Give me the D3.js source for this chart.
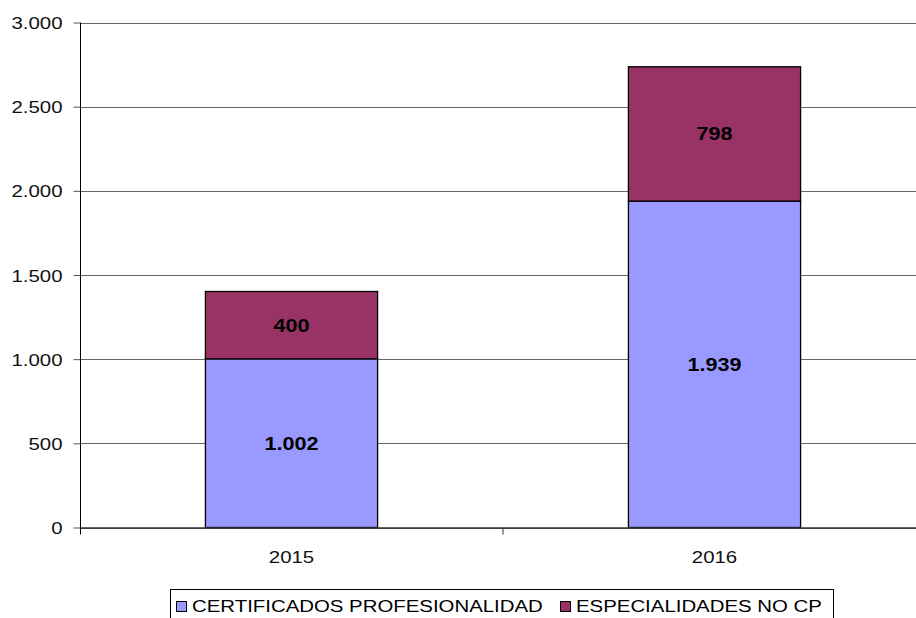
<!DOCTYPE html>
<html>
<head>
<meta charset="utf-8">
<script src="https://cdn.jsdelivr.net/npm/d3@7"></script>
<style>
  body { margin: 0; background: #fff; }
  svg { display: block; font-family: "Liberation Sans", Arial, sans-serif; }
</style>
</head>
<body>
<div id="chart"></div>
<script>
var years = ["2015", "2016"];
var seriesNames = ["CERTIFICADOS PROFESIONALIDAD", "ESPECIALIDADES NO CP"];
var certificados = [1002, 1939];
var especialidades = [400, 798];
var yTicks = [0, 500, 1000, 1500, 2000, 2500, 3000];
var colors = ["#9999ff", "#993366"];

var width = 916, height = 618;
var plot = {left: 80, right: 926, top: 22.5, bottom: 527.5};
var sx = 1.2; // the original text is drawn horizontally wide

var fmt = function(v) { return d3.format(",")(v).replace(/,/g, "."); };

// move x/y into a transform so text can be stretched sideways
function stretch(sel) {
  sel.each(function() {
    var t = d3.select(this);
    var tx = +t.attr("x") || 0, ty = +t.attr("y") || 0;
    t.attr("x", 0).attr("y", 0)
      .attr("transform", "translate(" + tx + "," + ty + ") scale(" + sx + ",1)");
  });
}

var data = years.map(function(y, i) {
  return {year: y, c: certificados[i], e: especialidades[i]};
});

var series = d3.stack().keys(["c", "e"])(data);

var svg = d3.select("#chart").append("svg")
  .attr("width", width)
  .attr("height", height);

var x = d3.scaleBand()
  .domain(years)
  .range([plot.left, plot.right])
  .paddingInner(0.593)
  .paddingOuter(0.2965);

var y = d3.scaleLinear()
  .domain([0, 3000])
  .range([plot.bottom, plot.top]);

// gridlines
svg.append("g")
  .selectAll("line")
  .data(yTicks)
  .enter().append("line")
  .attr("x1", plot.left)
  .attr("x2", plot.right)
  .attr("y1", function(d) { return Math.round(y(d)) + 0.5; })
  .attr("y2", function(d) { return Math.round(y(d)) + 0.5; })
  .attr("stroke", "#666")
  .attr("stroke-width", 1);

// y axis
var yAxis = d3.axisLeft(y)
  .tickValues(yTicks)
  .tickSize(7)
  .tickPadding(11)
  .tickFormat(fmt);

svg.append("g")
  .attr("transform", "translate(" + (plot.left + 0.5) + ",0)")
  .call(yAxis)
  .call(function(g) {
    g.select(".domain").remove();
    g.selectAll(".tick line").attr("stroke", "#555");
    g.selectAll("text").style("font-size", "17px").attr("fill", "#111")
      .attr("dy", null).attr("y", 6).call(stretch);
  });

svg.append("line")
  .attr("x1", plot.left + 0.5).attr("x2", plot.left + 0.5)
  .attr("y1", plot.top).attr("y2", plot.bottom + 7)
  .attr("stroke", "#000");

// bars
var layers = svg.selectAll(".layer")
  .data(series)
  .enter().append("g")
  .attr("class", "layer")
  .attr("fill", function(d, i) { return colors[i]; });

layers.selectAll("rect")
  .data(function(d) { return d; })
  .enter().append("rect")
  .attr("x", function(d) { return x(d.data.year); })
  .attr("y", function(d) { return y(d[1]); })
  .attr("width", x.bandwidth())
  .attr("height", function(d) { return y(d[0]) - y(d[1]); })
  .attr("stroke", "#000")
  .attr("stroke-width", 1.3);

// value labels
layers.selectAll("text")
  .data(function(d) { return d.map(function(p) { return {p: p, key: d.key}; }); })
  .enter().append("text")
  .attr("x", function(d) { return x(d.p.data.year) + x.bandwidth() / 2; })
  .attr("y", function(d) { return (y(d.p[0]) + y(d.p[1])) / 2 + 6.5; })
  .attr("text-anchor", "middle")
  .attr("fill", "#000")
  .style("font-size", "18px")
  .style("font-weight", "bold")
  .text(function(d) { return fmt(d.p.data[d.key]); })
  .call(stretch);

// x axis
var xAxis = d3.axisBottom(x).tickSize(0).tickPadding(0);
svg.append("g")
  .attr("transform", "translate(0," + (plot.bottom) + ")")
  .call(xAxis)
  .call(function(g) {
    g.select(".domain").attr("stroke", "#333").attr("stroke-width", 1.5);
    g.selectAll("text").style("font-size", "17px").attr("fill", "#111")
      .attr("dy", null).attr("y", 35).call(stretch);
  });

// category separators
var step = x.step();
svg.append("g")
  .selectAll("line")
  .data(years.slice(1))
  .enter().append("line")
  .attr("x1", function(d) { return x(d) - step * x.paddingInner() / 2; })
  .attr("x2", function(d) { return x(d) - step * x.paddingInner() / 2; })
  .attr("y1", plot.bottom)
  .attr("y2", plot.bottom + 7)
  .attr("stroke", "#333");

// legend
var legend = svg.append("g").attr("transform", "translate(170,589)");
legend.append("rect")
  .attr("x", 0.5).attr("y", 0.5)
  .attr("width", 663).attr("height", 40)
  .attr("fill", "#fff")
  .attr("stroke", "#000");

var legendX = [6, 390];
seriesNames.forEach(function(name, i) {
  legend.append("rect")
    .attr("x", legendX[i] + 0.5).attr("y", 12.5)
    .attr("width", 10).attr("height", 10)
    .attr("fill", colors[i])
    .attr("stroke", "#000");
  legend.append("text")
    .attr("x", legendX[i] + 16).attr("y", 23)
    .style("font-size", "17px")
    .attr("fill", "#000")
    .text(name)
    .call(stretch);
});
</script>
</body>
</html>
